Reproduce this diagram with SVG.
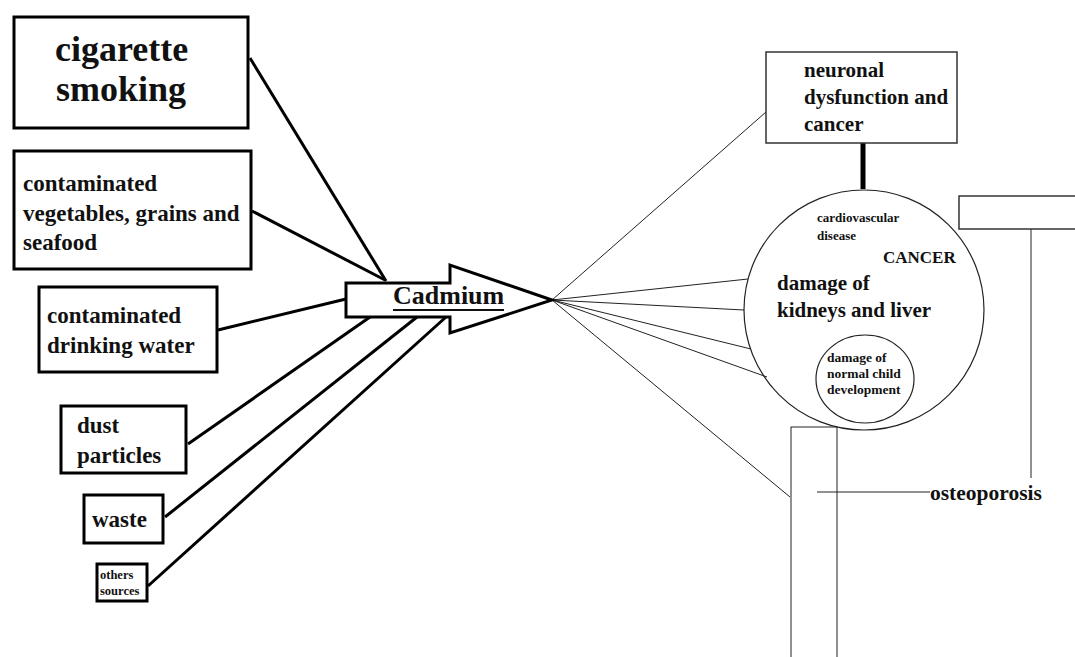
<svg xmlns="http://www.w3.org/2000/svg" width="1075" height="657" viewBox="0 0 1075 657">
<style>
text{font-family:"Liberation Serif","Times New Roman",serif;font-weight:bold;fill:#111}
.src{fill:#fff;stroke:#000;stroke-width:3}
.thin{fill:none;stroke:#222;stroke-width:1}
.med{fill:#fff;stroke:#333;stroke-width:1.5}
.thick{stroke:#000;stroke-width:3;fill:none}
</style>
<rect width="1075" height="657" fill="#fff"/>
<g id="connectors">
<line class="thick" x1="250" y1="58" x2="386" y2="281"/>
<line class="thick" x1="252" y1="211" x2="385" y2="280"/>
<line class="thick" x1="218" y1="330" x2="346" y2="299"/>
<line class="thick" x1="188" y1="444" x2="370" y2="317"/>
<line class="thick" x1="165" y1="517" x2="417" y2="317"/>
<line class="thick" x1="148" y1="586" x2="446" y2="317"/>
<line class="thin" x1="552" y1="300" x2="766" y2="112"/>
<line class="thin" x1="552" y1="300" x2="748" y2="279"/>
<line class="thin" x1="552" y1="300" x2="744" y2="310"/>
<line class="thin" x1="552" y1="300" x2="751" y2="349"/>
<line class="thin" x1="552" y1="300" x2="767" y2="377"/>
<line class="thin" x1="552" y1="300" x2="790" y2="497"/>
<line x1="863" y1="143" x2="863" y2="189" stroke="#000" stroke-width="5"/>
<line class="thin" x1="1031" y1="217" x2="1031" y2="478"/>
<line class="thin" x1="817" y1="492" x2="930" y2="492"/>
</g>
<g id="cigarette">
<rect class="src" x="14" y="17" width="234" height="111"/>
<text x="55" y="61" font-size="36">cigarette</text>
<text x="56" y="101" font-size="36">smoking</text>
</g>
<g id="vegetables">
<rect class="src" x="14" y="151" width="237" height="118"/>
<text x="23" y="191" font-size="23">contaminated</text>
<text x="23" y="221" font-size="23">vegetables, grains and</text>
<text x="23" y="250" font-size="23">seafood</text>
</g>
<g id="water">
<rect class="src" x="39" y="287" width="178" height="85"/>
<text x="47" y="323" font-size="23">contaminated</text>
<text x="47" y="353" font-size="23">drinking water</text>
</g>
<g id="dust">
<rect class="src" x="61" y="406" width="125" height="67"/>
<text x="77" y="433" font-size="23">dust</text>
<text x="77" y="463" font-size="23">particles</text>
</g>
<g id="waste">
<rect class="src" x="84" y="495" width="79" height="48"/>
<text x="92" y="527" font-size="23">waste</text>
</g>
<g id="others">
<rect class="src" x="97" y="564" width="50" height="37"/>
<text x="100" y="579" font-size="12.5">others</text>
<text x="100" y="595" font-size="12.5">sources</text>
</g>
<g id="cadmium">
<polygon points="346,283 450,283 450,265 552,300 450,333 450,317 346,317" fill="#fff" stroke="#000" stroke-width="3" stroke-linejoin="miter"/>
<text x="393" y="304" font-size="26">Cadmium</text>
<line x1="393" y1="310" x2="504" y2="310" stroke="#111" stroke-width="2"/>
</g>
<g id="neuronal">
<rect class="med" x="766" y="52" width="191" height="91"/>
<text x="804" y="77" font-size="21">neuronal</text>
<text x="804" y="104" font-size="21">dysfunction and</text>
<text x="804" y="131" font-size="21">cancer</text>
</g>
<g id="circle">
<circle cx="864" cy="310" r="120" fill="none" stroke="#222" stroke-width="1.2"/>
<text x="817" y="222" font-size="13">cardiovascular</text>
<text x="817" y="240" font-size="13">disease</text>
<text x="883" y="263" font-size="17">CANCER</text>
<text x="777" y="290" font-size="21">damage of</text>
<text x="777" y="317" font-size="21">kidneys and liver</text>
</g>
<g id="child">
<ellipse cx="865" cy="379" rx="49" ry="44" fill="none" stroke="#222" stroke-width="1.2"/>
<text x="827" y="362" font-size="13.5">damage of</text>
<text x="827" y="378" font-size="13.5">normal child</text>
<text x="827" y="394" font-size="13.5">development</text>
</g>
<g id="topright">
<rect class="med" x="959" y="196" width="130" height="33" fill="none"/>
</g>
<g id="bone">
<rect class="thin" x="791" y="427" width="46" height="240"/>
</g>
<g id="osteoporosis">
<text x="930" y="500" font-size="21.5">osteoporosis</text>
</g>
</svg>
